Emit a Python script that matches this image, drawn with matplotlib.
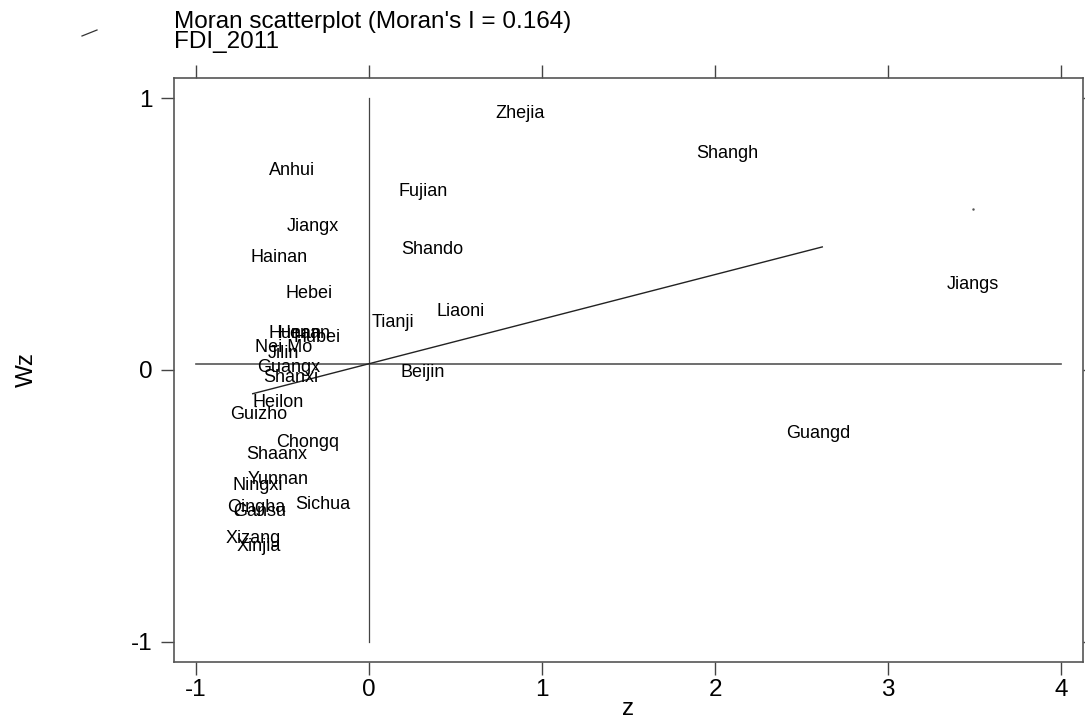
import matplotlib.pyplot as plt
from matplotlib.lines import Line2D
import numpy as np

plt.rcParams['font.family'] = ['Liberation Sans', 'DejaVu Sans']
plt.rcParams['axes.unicode_minus'] = False

# province labels (truncated as in the original), standardized FDI (z) and spatial lag (Wz)
names = ['Zhejia', 'Shangh', 'Anhui', 'Fujian', 'Jiangx', 'Hainan', 'Shando', 'Hebei',
         'Jiangs', 'Liaoni', 'Tianji', 'Hunan', 'Henan', 'Hubei', 'Nei Mo', 'Jilin',
         'Guangx', 'Shanxi', 'Heilon', 'Guizho', 'Chongq', 'Shaanx', 'Yunnan', 'Ningxi',
         'Sichua', 'Qingha', 'Gansu', 'Xizang', 'Xinjia', 'Beijin', 'Guangd']
z = [0.873, 2.069, -0.445, 0.312, -0.324, -0.520, 0.364, -0.347,
     3.491, 0.532, 0.139, -0.428, -0.376, -0.301, -0.491, -0.497,
     -0.462, -0.451, -0.526, -0.636, -0.353, -0.532, -0.526, -0.642,
     -0.266, -0.653, -0.630, -0.671, -0.636, 0.312, 2.595]
wz = [0.945, 0.798, 0.732, 0.658, 0.526, 0.415, 0.445, 0.283,
      0.316, 0.217, 0.176, 0.136, 0.136, 0.121, 0.081, 0.0625,
      0.011, -0.029, -0.121, -0.162, -0.265, -0.3125, -0.404, -0.423,
      -0.496, -0.507, -0.522, -0.618, -0.651, -0.011, -0.235]

# regression line (slope = Moran's I) and mean of Wz
moran_i = 0.164
intercept = 0.023
fit_x = [-0.672, 2.62]
stray_point = (3.49, 0.594)

fig = plt.figure(figsize=(10.85, 7.2), dpi=100)
ax = fig.add_axes([174 / 1085, 1 - 662 / 720, 909 / 1085, 584 / 720])

ax.set_xlim(-1.127, 4.127)
ax.set_ylim(-1.074, 1.074)

# reference lines
ax.plot([-1, 4], [intercept, intercept], color='#555555', lw=1.2)
ax.plot([0, 0], [-1, 1], color='#444444', lw=0.9)
fx = np.array(fit_x)
ax.plot(fx, intercept + moran_i * fx, color='#222222', lw=1.0)
ax.plot([stray_point[0]], [stray_point[1]], marker='.', ms=1.5, color='#555555')

for n, xv, yv in zip(names, z, wz):
    ax.text(xv, yv, n, ha='center', va='center', fontsize=13, color='black')

ax.set_xticks([-1, 0, 1, 2, 3, 4])
ax.set_yticks([-1, 0, 1])
ax.tick_params(direction='out', length=9.5, width=1.0, color='#444444',
               labelsize=17.5, top=True, right=True, labeltop=False, labelright=False)
ax.tick_params(axis='x', pad=3)
ax.tick_params(axis='y', pad=6)
for s in ax.spines.values():
    s.set_color('#555555')
    s.set_linewidth(1.2)

# axis titles
fig.text(628 / 1085, 1 - 715 / 720, 'z', fontsize=17.5, ha='center', va='baseline')
fig.text(27 / 1085, 1 - 370 / 720, 'Wz', fontsize=17.5, ha='center', va='center',
         rotation=90)

fig.text(174 / 1085, 1 - 28 / 720, "Moran scatterplot (Moran's I = 0.164)",
         fontsize=17.5, ha='left', va='baseline')
fig.text(174 / 1085, 1 - 48 / 720, 'FDI_2011', fontsize=17.5, ha='left', va='baseline')

# small stray stroke in the upper-left corner of the original
fig.add_artist(Line2D([82 / 1085, 97 / 1085], [1 - 36 / 720, 1 - 30 / 720],
                      color='#333333', lw=0.9))

fig.savefig('out.png', dpi=100)
